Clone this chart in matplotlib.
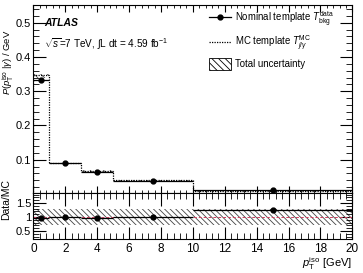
import numpy as np
import matplotlib
matplotlib.use('Agg')
import matplotlib.pyplot as plt
from matplotlib.ticker import MultipleLocator
from matplotlib.lines import Line2D
from matplotlib.patches import Patch

plt.rcParams['font.family'] = ['Liberation Sans', 'DejaVu Sans']
plt.rcParams['mathtext.fontset'] = 'custom'
plt.rcParams['mathtext.rm'] = 'Liberation Sans'
plt.rcParams['mathtext.it'] = 'Liberation Sans:italic'
plt.rcParams['hatch.color'] = '#444444'
plt.rcParams['hatch.linewidth'] = 0.6

# binning in pT iso [GeV]
bin_edges = [0, 1, 3, 5, 10, 20]
bin_centers = [0.5, 2, 4, 7.5, 15]

# nominal template (data-driven) and MC template, per GeV
nominal = [0.334, 0.089, 0.064, 0.039, 0.0125]
mc_template = [0.347, 0.089, 0.068, 0.040, 0.0100]
unc_low = [0.340, 0.087, 0.064, 0.038, 0.0092]
unc_high = [0.350, 0.091, 0.070, 0.041, 0.0108]

# ratio panel
ratio = [0.97, 1.01, 0.95, 1.00, 1.24]
ratio_unc = [0.29, 0.29, 0.29, 0.29, 0.29]

edges = np.array(bin_edges, dtype=float)
xerr = np.diff(edges) / 2

fig = plt.figure(figsize=(3.63, 2.73), dpi=100)
ax = fig.add_axes([0.092, 0.292, 0.8785, 0.690])
axr = fig.add_axes([0.092, 0.1234, 0.8785, 0.1686])

# top panel
ax.stairs(unc_high, edges, baseline=unc_low, fill=True, facecolor='none',
          edgecolor='#444444', hatch='\\\\\\\\\\', linewidth=0)
ax.stairs(mc_template, edges, color='black', linestyle=(0, (1, 1)), linewidth=0.9,
          baseline=None)
ax.plot([0, 0], [0, mc_template[0]], color='black', linestyle=(0, (1, 1)), linewidth=0.9)
ax.errorbar(bin_centers, nominal, xerr=xerr, fmt='o', color='black', markersize=3.5,
            elinewidth=0.9, capsize=0)

ax.set_xlim(0, 20)
ax.set_ylim(0.002, 0.552)
ax.yaxis.set_major_locator(MultipleLocator(0.1))
ax.yaxis.set_minor_locator(MultipleLocator(0.02))
ax.xaxis.set_major_locator(MultipleLocator(2))
ax.xaxis.set_minor_locator(MultipleLocator(0.4))
ax.tick_params(axis='both', which='both', direction='in', top=True, right=True,
               labelsize=8, pad=1.5)
ax.tick_params(axis='both', which='major', length=9, width=0.8)
ax.tick_params(axis='both', which='minor', length=4.5, width=0.6)
ax.tick_params(axis='x', which='major', length=5)
ax.tick_params(axis='x', which='minor', length=2.5)
ax.tick_params(axis='x', labelbottom=False)
ax.set_yticks([0.1, 0.2, 0.3, 0.4, 0.5])
ax.set_yticklabels(['0.1', '0.2', '0.3', '0.4', '0.5'])

# y titles placed in figure coordinates so they stay inside the canvas
fig.text(0.003, 0.77, r'$P(p_{\rm T}^{\rm iso}\;|\gamma)$ / GeV', fontsize=6.8,
         rotation=90, ha='left', va='center')
fig.text(0.003, 0.27, 'Data/MC', fontsize=7.5, rotation=90, ha='left', va='center')

ax.text(0.034, 0.905, 'ATLAS', transform=ax.transAxes, fontsize=7.5,
        fontweight='bold', fontstyle='italic', va='center')
ax.text(0.034, 0.79, r'$\sqrt{s}$=7 TeV, $\int$L dt = 4.59 fb$^{-1}$',
        transform=ax.transAxes, fontsize=7.2, va='center')

handles = [
    Line2D([], [], color='black', marker='o', markersize=3.5, linewidth=0.9),
    Line2D([], [], color='black', linestyle=(0, (1, 1)), linewidth=0.9),
    Patch(facecolor='white', edgecolor='black', hatch='\\\\\\\\\\', linewidth=0.6),
]
labels = [r'Nominal template $T_{\rm bkg}^{\rm data}$',
          r'MC template $T_{j/\gamma}^{\rm MC}$',
          'Total uncertainty']
ax.legend(handles, labels, loc='upper left', bbox_to_anchor=(0.54, 0.995),
          frameon=False, fontsize=6.9, handlelength=2.2, handleheight=1.6,
          labelspacing=0.5, handletextpad=0.5, borderaxespad=0)

# ratio panel
axr.stairs(np.array(ratio_unc) + 1, edges, baseline=1 - np.array(ratio_unc),
           fill=True, facecolor='none', edgecolor='#444444', hatch='\\\\\\\\\\\\',
           linewidth=0)
axr.axhline(1, color='#d04060', linestyle='--', linewidth=0.7, dashes=(3, 2))
axr.errorbar(bin_centers, ratio, xerr=xerr, fmt='o', color='black', markersize=3.5,
             elinewidth=0.9, capsize=0)
axr.set_xlim(0, 20)
axr.set_ylim(0.2, 1.85)
axr.yaxis.set_major_locator(MultipleLocator(0.5))
axr.yaxis.set_minor_locator(MultipleLocator(0.1))
axr.xaxis.set_major_locator(MultipleLocator(2))
axr.xaxis.set_minor_locator(MultipleLocator(0.4))
axr.set_yticks([0.5, 1, 1.5])
axr.set_yticklabels(['0.5', '1', '1.5'])
axr.tick_params(axis='both', which='both', direction='in', top=True, right=True,
                labelsize=8, pad=1.5)
axr.tick_params(axis='y', which='major', length=9, width=0.8)
axr.tick_params(axis='y', which='minor', length=4.5, width=0.6)
axr.tick_params(axis='x', which='major', length=9, width=0.8)
axr.tick_params(axis='x', which='minor', length=4.5, width=0.6)
axr.tick_params(axis='x', pad=2.5, labelsize=8.5)
axr.set_xlabel(r'$p_{\rm T}^{\rm iso}$ [GeV]', fontsize=8, loc='right', labelpad=0)

fig.savefig('out.png', dpi=100)
